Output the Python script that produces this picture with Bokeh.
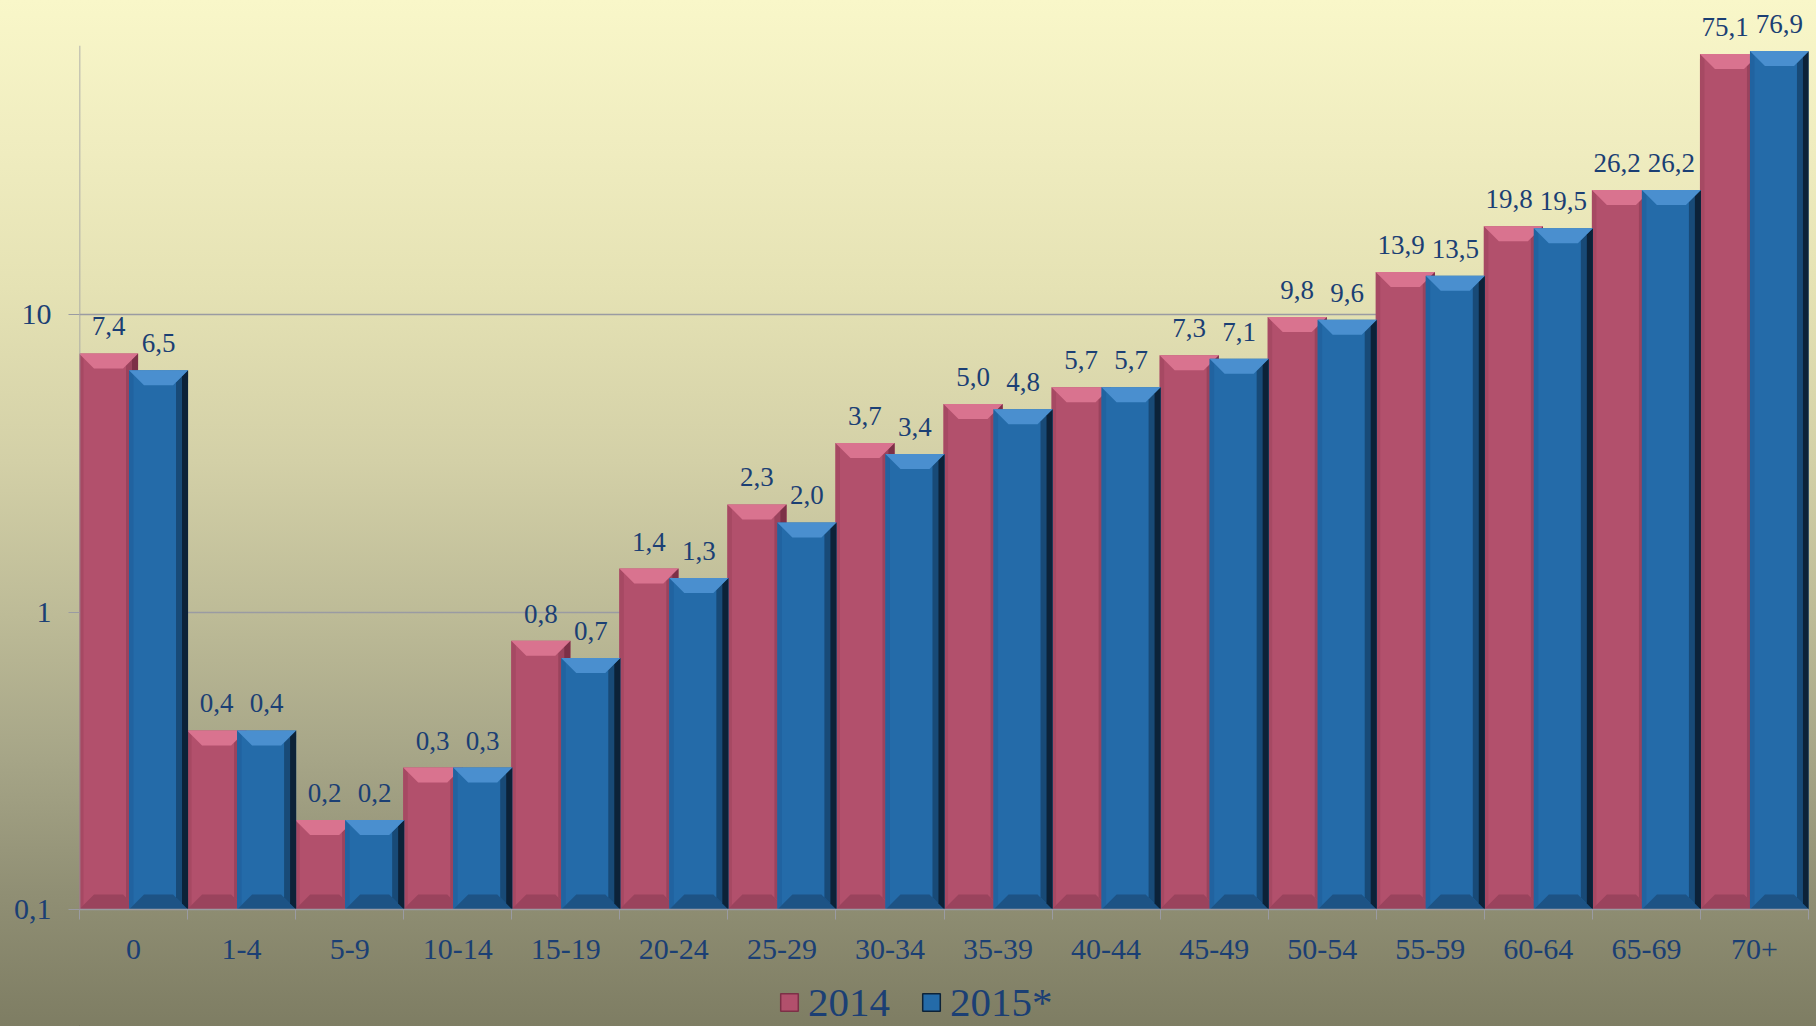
import numpy as np
from bokeh.plotting import figure
from bokeh.layouts import column
from bokeh.models import (ColumnDataSource, FixedTicker, LabelSet, Legend,
                          LegendItem, Range1d)
from bokeh.core.properties import value
from bokeh.embed import file_html
from bokeh.resources import INLINE

# ---------------- data ----------------
categories = ["0", "1-4", "5-9", "10-14", "15-19", "20-24", "25-29", "30-34",
              "35-39", "40-44", "45-49", "50-54", "55-59", "60-64", "65-69", "70+"]
values_2014 = [7.4, 0.4, 0.2, 0.3, 0.8, 1.4, 2.3, 3.7, 5.0, 5.7, 7.3, 9.8,
               13.9, 19.8, 26.2, 75.1]
values_2015 = [6.5, 0.4, 0.2, 0.3, 0.7, 1.3, 2.0, 3.4, 4.8, 5.7, 7.1, 9.6,
               13.5, 19.5, 26.2, 76.9]
series_names = ["2014", "2015*"]
y_ticks = [0.1, 1, 10]
y_tick_labels = ["0,1", "1", "10"]
y_axis_min = 0.1
y_axis_max = 80

# ---------------- styling ----------------
FONT = "Liberation Serif"
TXT = "#1b3f74"
AXIS_GREY = "#9a9ba2"
W = 1816
LEFT, RIGHT, TOP, BOTTOM = 79, 8, 0, 58
frame_w = W - LEFT - RIGHT
frame_h = 909
H_MAIN = TOP + frame_h + BOTTOM
H_LEG = 1026 - H_MAIN
n = len(categories)
px_per_cat = frame_w / n
px_per_dec = 297.5
y_top = y_axis_min * 10 ** (frame_h / px_per_dec)
LABEL_PX = 27

p = figure(width=W, height=H_MAIN, y_axis_type="log", output_backend="svg",
           toolbar_location=None, x_range=Range1d(0, n),
           y_range=Range1d(y_axis_min, y_top),
           min_border_left=LEFT, min_border_right=RIGHT,
           min_border_top=TOP, min_border_bottom=BOTTOM)
p.frame_width = frame_w
p.frame_height = frame_h
p.background_fill_alpha = 0
p.border_fill_alpha = 0
p.outline_line_alpha = 0

# grid
p.xgrid.visible = False
p.ygrid.ticker = FixedTicker(ticks=[t for t in y_ticks if t > y_axis_min])
p.ygrid.grid_line_color = AXIS_GREY
p.ygrid.grid_line_width = 1.3

# bar geometry
bar_w = 59 / px_per_cat
offset = 25 / px_per_cat
centers = np.arange(n) + 0.5
db = 15 / px_per_cat
fv = 10 ** (15 / px_per_dec)


def fmt(v):
    return f"{v:.1f}".replace(".", ",")


def text_w(s):
    return sum(0.25 if ch == "," else 0.5 for ch in s) * LABEL_PX


# nudge the left label of a pair when the two labels would collide
nudge_14 = []
for a, b in zip(values_2014, values_2015):
    need = text_w(fmt(a)) / 2 + text_w(fmt(b)) / 2 + 7 - 2 * offset * px_per_cat
    nudge_14.append(-max(0.0, need) / px_per_cat)
nudge_15 = [0.0] * n


def draw_series(vals, dx, nudge, main, top_c, bot_c, right_c, right_c2, left_c):
    x = centers + dx
    xl = x - bar_w / 2
    xr = x + bar_w / 2
    src = ColumnDataSource(dict(x=x, top=vals))
    p.vbar(x="x", top="top", bottom=y_axis_min, width=bar_w, source=src,
           fill_color=main, line_color=None)
    top_xs, top_ys, bot_xs, bot_ys, rs_xs, rs_ys, rs2_xs, rs2_ys, l_xs, l_ys = ([] for _ in range(10))
    b0 = y_axis_min
    for a, b, v in zip(xl, xr, vals):
        top_xs.append([a, b, b - db, a + db]); top_ys.append([v, v, v / fv, v / fv])
        bot_xs.append([a, b, b - db, a + db]); bot_ys.append([b0, b0, b0 * fv, b0 * fv])
        rs_xs.append([b, b, b - db * 0.8, b - db * 0.8]); rs_ys.append([v, b0, b0 * fv ** 0.8, v / fv ** 0.8])
        rs2_xs.append([b, b, b - db * 0.4, b - db * 0.4]); rs2_ys.append([v, b0, b0 * fv ** 0.4, v / fv ** 0.4])
        l_xs.append([a, a, a + db * 0.3, a + db * 0.3]); l_ys.append([v, b0, b0 * fv ** 0.3, v / fv ** 0.3])
    p.patches(l_xs, l_ys, fill_color=left_c, line_color=None)
    p.patches(bot_xs, bot_ys, fill_color=bot_c, line_color=None)
    p.patches(rs_xs, rs_ys, fill_color=right_c, line_color=None)
    p.patches(rs2_xs, rs2_ys, fill_color=right_c2, line_color=None)
    p.patches(top_xs, top_ys, fill_color=top_c, line_color=None)
    lsrc = ColumnDataSource(dict(x=x + np.array(nudge), y=vals,
                                 t=[fmt(v) for v in vals]))
    p.add_layout(LabelSet(x="x", y="y", text="t", source=lsrc, y_offset=18,
                          text_align="center", text_baseline="alphabetic",
                          text_font=value(FONT), text_font_size=f"{LABEL_PX}px",
                          text_color=TXT))


COL14 = ("#b2506c", "#d9738f", "#9a435d", "#9a435d", "#7c3047", "#a64963")
COL15 = ("#246ba9", "#4a8fcf", "#1d5385", "#184a77", "#0c2238", "#2163a0")
draw_series(values_2014, -offset, nudge_14, *COL14)
draw_series(values_2015, offset, nudge_15, *COL15)

# y axis line (from 0.1 up to the axis max)
p.segment(x0=[0], y0=[y_axis_min], x1=[0], y1=[y_axis_max],
          line_color=AXIS_GREY, line_width=1.5)

# axes
ya = p.yaxis[0]
ya.ticker = FixedTicker(ticks=y_ticks)
ya.major_label_overrides = {t: l for t, l in zip(y_ticks, y_tick_labels)}
ya.axis_line_alpha = 0
ya.major_tick_out = 11
ya.major_tick_in = 0
ya.major_tick_line_color = AXIS_GREY
ya.minor_tick_line_alpha = 0
ya.major_label_standoff = 17
ya.major_label_text_font = FONT
ya.major_label_text_font_size = "30px"
ya.major_label_text_color = TXT

xa = p.xaxis[0]
xa.ticker = FixedTicker(ticks=list(centers), minor_ticks=list(range(n + 1)))
xa.major_label_overrides = {float(c): cat for c, cat in zip(centers, categories)}
xa.axis_line_color = AXIS_GREY
xa.axis_line_width = 1.5
xa.major_tick_out = 0
xa.major_tick_in = 0
xa.minor_tick_out = 10
xa.minor_tick_in = 0
xa.minor_tick_line_color = AXIS_GREY
xa.major_label_standoff = 20
xa.major_label_text_font = FONT
xa.major_label_text_font_size = "30px"
xa.major_label_text_color = TXT

# ---------------- legend strip ----------------
pl = figure(width=W, height=H_LEG, output_backend="svg", toolbar_location=None,
            x_range=Range1d(0, 1), y_range=Range1d(0, 1),
            x_axis_location=None, y_axis_location=None,
            min_border=0)
pl.grid.visible = False
pl.background_fill_alpha = 0
pl.border_fill_alpha = 0
pl.outline_line_alpha = 0
# legend proxies: one square each, kept outside the visible range
proxy = ColumnDataSource(dict(x=[-5.0], top=[0.0]))
lr14 = pl.vbar(x="x", top="top", width=0.1, source=proxy,
               fill_color=COL14[0], line_color=COL14[4], line_width=1.5)
lr15 = pl.vbar(x="x", top="top", width=0.1, source=proxy,
               fill_color=COL15[0], line_color=COL15[4], line_width=1.5)
legend = Legend(items=[LegendItem(label=series_names[0], renderers=[lr14]),
                       LegendItem(label=series_names[1], renderers=[lr15])],
                orientation="horizontal", location=(699, 0),
                glyph_width=22, glyph_height=22, label_standoff=8, spacing=30,
                padding=0, margin=0,
                label_text_font=FONT, label_text_font_size="41px",
                label_text_color=TXT, background_fill_alpha=0,
                border_line_alpha=0)
pl.add_layout(legend)

layout = column(p, pl, spacing=0)
layout.styles = {"background": "linear-gradient(to bottom, #f9f7c9 0%, #efecbf 15%, "
                               "#e5e2b4 28%, #d3d0a7 45%, #bdbb97 60%, #a6a587 74%, "
                               "#908f74 87%, #7e7d63 100%)"}

open("out.html", "w").write(file_html(layout, INLINE))
